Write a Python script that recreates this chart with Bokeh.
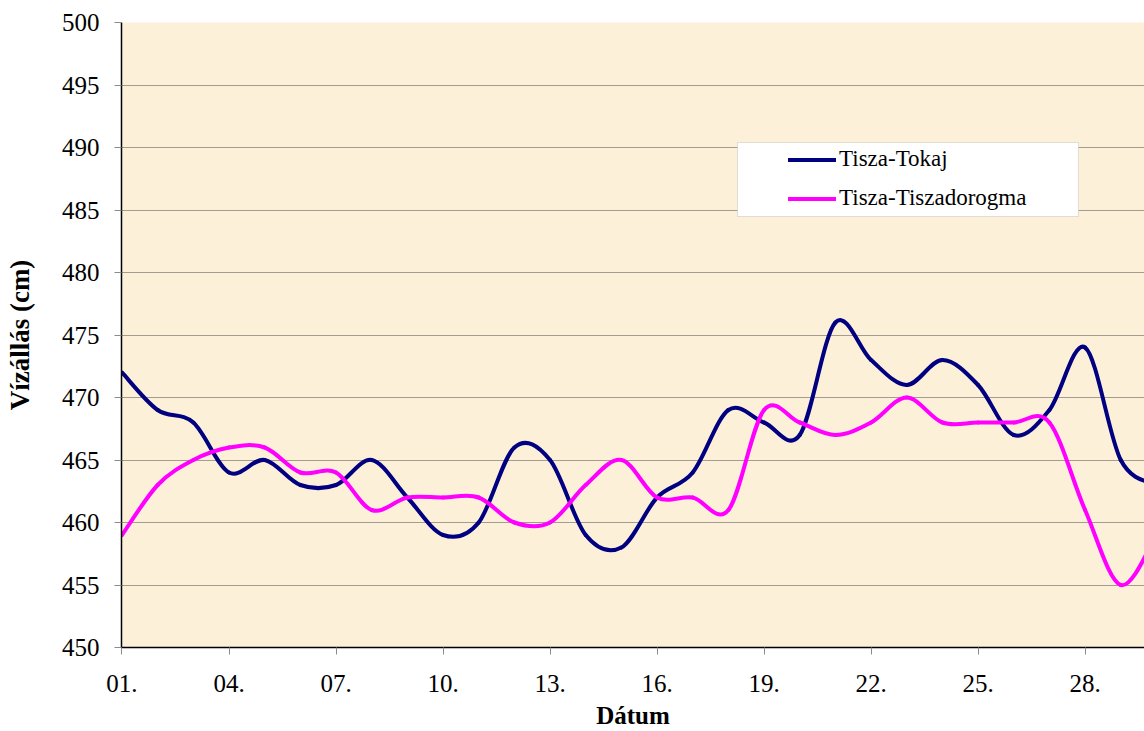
from bokeh.plotting import figure
from bokeh.models import FixedTicker, Legend, LegendItem, BoxAnnotation, Range1d, ColumnDataSource
from bokeh.embed import file_html
from bokeh.resources import INLINE

# ---- data ----
days = list(range(1, 31))
tokaj = [472, 469, 468, 464, 465, 463, 463, 465, 462, 459,
         460, 466, 465, 459, 458, 462, 464, 469, 468, 467,
         476, 473, 471, 473, 471, 467, 469, 474, 465, 463]
tiszadorogma = [459, 463, 465, 466, 466, 464, 464, 461, 462, 462,
                462, 460, 460, 463, 465, 462, 462, 461, 469, 468,
                467, 468, 470, 468, 468, 468, 468, 461, 455, 459]
tick_days = [1, 4, 7, 10, 13, 16, 19, 22, 25, 28]
tick_labels = ["01.", "04.", "07.", "10.", "13.", "16.", "19.", "22.", "25.", "28."]
y_ticks = [450, 455, 460, 465, 470, 475, 480, 485, 490, 495, 500]
series_names = ["Tisza-Tokaj", "Tisza-Tiszadorogma"]
series_colors = ["#000080", "#FF00FF"]

SERIF = "Liberation Serif"


def smooth_segments(xs, ys):
    """Bezier control points for a smoothed line (Excel-like smoothing)."""
    n = len(xs)
    d = dict(x0=[], y0=[], x1=[], y1=[], cx0=[], cy0=[], cx1=[], cy1=[])
    for i in range(n - 1):
        xp, yp = (xs[i - 1], ys[i - 1]) if i > 0 else (xs[i], ys[i])
        xn, yn = (xs[i + 2], ys[i + 2]) if i + 2 < n else (xs[i + 1], ys[i + 1])
        d["x0"].append(xs[i]); d["y0"].append(ys[i])
        d["x1"].append(xs[i + 1]); d["y1"].append(ys[i + 1])
        d["cx0"].append(xs[i] + (xs[i + 1] - xp) / 6.0)
        d["cy0"].append(ys[i] + (ys[i + 1] - yp) / 6.0)
        d["cx1"].append(xs[i + 1] - (xn - xs[i]) / 6.0)
        d["cy1"].append(ys[i + 1] - (yn - ys[i]) / 6.0)
    return ColumnDataSource(d)


p = figure(width=1144, height=731,
           x_range=Range1d(0.986, 29.666), y_range=Range1d(450, 500),
           output_backend="svg", toolbar_location=None,
           min_border_left=121, min_border_right=0,
           min_border_top=22, min_border_bottom=84)

p.background_fill_color = "#FCF0D9"
p.border_fill_color = "white"
p.outline_line_color = None

# grid
p.xgrid.grid_line_color = None
p.ygrid.grid_line_color = "#A39C92"
p.ygrid.grid_line_width = 1

# axes
p.yaxis.ticker = FixedTicker(ticks=y_ticks)
p.xaxis.ticker = FixedTicker(ticks=tick_days)
p.xaxis.major_label_overrides = {d: l for d, l in zip(tick_days, tick_labels)}
for ax in (p.xaxis, p.yaxis):
    ax.axis_line_color = "black"
    ax.axis_line_width = 1.5
    ax.major_tick_line_color = "#8C8C8C"
    ax.major_tick_out = 7
    ax.major_tick_in = 0
    ax.minor_tick_line_color = None
    ax.major_label_text_font = SERIF
    ax.major_label_text_font_size = "25px"
    ax.major_label_text_color = "black"
    ax.axis_label_text_font = SERIF
    ax.axis_label_text_font_style = "bold"
    ax.axis_label_text_color = "black"

p.yaxis.major_label_standoff = 15
p.yaxis.axis_label = "Vízállás (cm)"
p.yaxis.axis_label_text_font_size = "27px"
p.yaxis.axis_label_standoff = 24
p.xaxis.major_label_standoff = 20
p.xaxis.axis_label = "Dátum"
p.xaxis.axis_label_text_font_size = "25px"
p.xaxis.axis_label_standoff = 7

# series
renderers = []
for vals, col in zip([tokaj, tiszadorogma], series_colors):
    src = smooth_segments(days, vals)
    r = p.bezier(x0="x0", y0="y0", x1="x1", y1="y1", cx0="cx0", cy0="cy0",
                 cx1="cx1", cy1="cy1", source=src, line_color=col,
                 line_width=4, line_cap="round")
    renderers.append(r)

# legend box
box = BoxAnnotation(left=18.256, right=27.816, bottom=484.48, top=490.4,
                    fill_color="white", fill_alpha=1.0,
                    line_color="#A0A0A0", line_width=1)
p.add_layout(box)

legend = Legend(items=[LegendItem(label=n, renderers=[r]) for n, r in zip(series_names, renderers)],
                location=(667, 436), orientation="vertical",
                background_fill_alpha=0, border_line_color=None,
                padding=0, margin=0, spacing=13,
                glyph_width=48, glyph_height=25, label_height=25,
                label_standoff=3,
                label_text_font=SERIF, label_text_font_size="23px",
                label_text_color="black")
p.add_layout(legend)

open("out.html", "w").write(file_html(p, INLINE))
